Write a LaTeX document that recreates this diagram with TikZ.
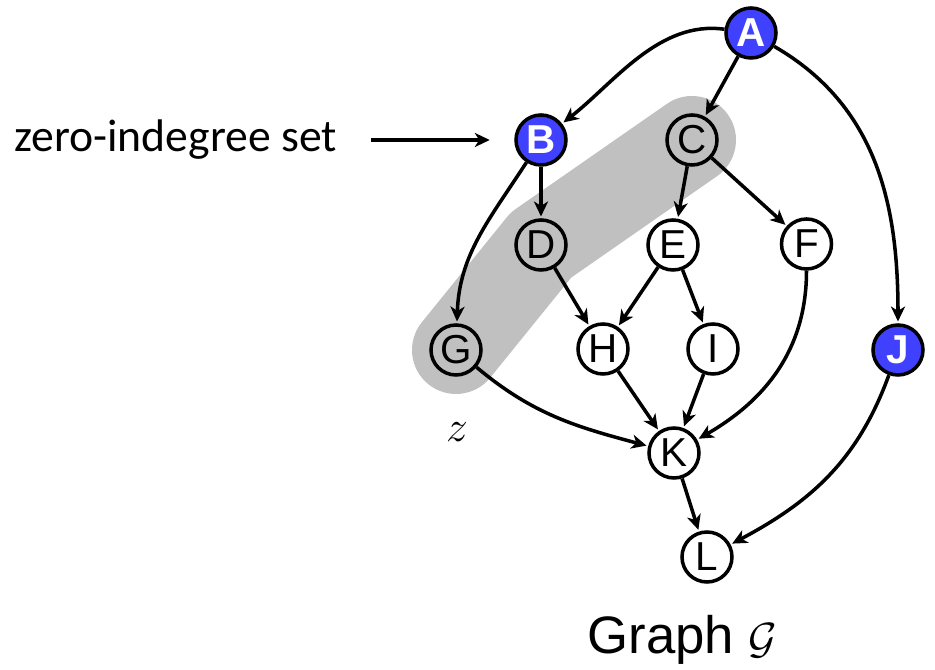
\documentclass[tikz,border=0pt]{standalone}
\usepackage{fontspec}
\setmainfont{Liberation Sans}
\newfontfamily\calibri{Carlito}
\usetikzlibrary{arrows.meta,positioning,backgrounds}
\definecolor{srcblue}{RGB}{64,64,255}
\definecolor{bandgray}{RGB}{192,192,192}

\begin{document}
\begin{tikzpicture}[
  vtx/.style={circle,draw,line width=2pt,minimum size=1cm,inner sep=0pt,
    font=\fontsize{23}{23}\selectfont},
  src/.style={vtx,fill=srcblue,text=white,font=\fontsize{23}{23}\selectfont\bfseries},
  edge/.style={line width=2pt,-{Stealth[length=8.5pt,width=8pt,inset=2.5pt]},shorten >=1pt},
  big/.style={font=\fontsize{26}{26}\selectfont}]
  \useasboundingbox (0,0) rectangle (18.7,13.4);
  % vertices
  \node[src] (A) at (15.02,12.74) {A};
  \node[src] (B) at (10.82,10.6) {B};
  \node[vtx] (C) at (13.84,10.6) {C};
  \node[vtx] (D) at (10.82,8.5) {D};
  \node[vtx] (E) at (13.46,8.5) {E};
  \node[vtx] (F) at (16.13,8.52) {F};
  \node[vtx] (G) at (9.12,6.4) {G};
  \node[vtx] (H) at (12.06,6.42) {H};
  \node[vtx] (I) at (14.26,6.42) {I};
  \node[src] (J) at (17.96,6.4) {J};
  \node[vtx] (K) at (13.48,4.34) {K};
  \node[vtx] (L) at (14.14,2.26) {L};
  % the cut z
  \begin{scope}[on background layer]
    \draw[bandgray,line width=1.76cm,line cap=round,line join=round]
      (G.center) -- (D.center) -- (C.center);
  \end{scope}
  % edges
  \draw[edge] (A) to[out=172,in=38,looseness=0.9] (B);
  \draw[edge] (A) -- (C);
  \draw[edge] (A) to[out=-30,in=90] (J);
  \draw[edge] (B) -- (D);
  \draw[edge] (B) to[out=-123,in=88] (G);
  \draw[edge] (C) -- (E);
  \draw[edge] (C) -- (F);
  \draw[edge] (D) -- (H);
  \draw[edge] (E) -- (H);
  \draw[edge] (E) -- (I);
  \draw[edge] (F) to[out=-90,in=30] (K);
  \draw[edge] (G) to[out=-40,in=165] (K);
  \draw[edge] (H) -- (K);
  \draw[edge] (I) -- (K);
  \draw[edge] (J) to[out=-110,in=28] (L);
  \draw[edge] (K) -- (L);
  % labels
  \node[font=\calibri\fontsize{26}{26}\selectfont,anchor=east] (zset) at (6.86,10.6) {zero-indegree set};
  \draw[edge,line width=2.4pt,shorten <=0.56cm,shorten >=0.49cm] (zset) -- (B);
  \node[big] (zlbl) at (9.14,4.76) {$z$};
  \node[font=\fontsize{30}{30}\selectfont] (title) at (13.65,0.6) {Graph $\mathcal{G}$};
\end{tikzpicture}
\end{document}
